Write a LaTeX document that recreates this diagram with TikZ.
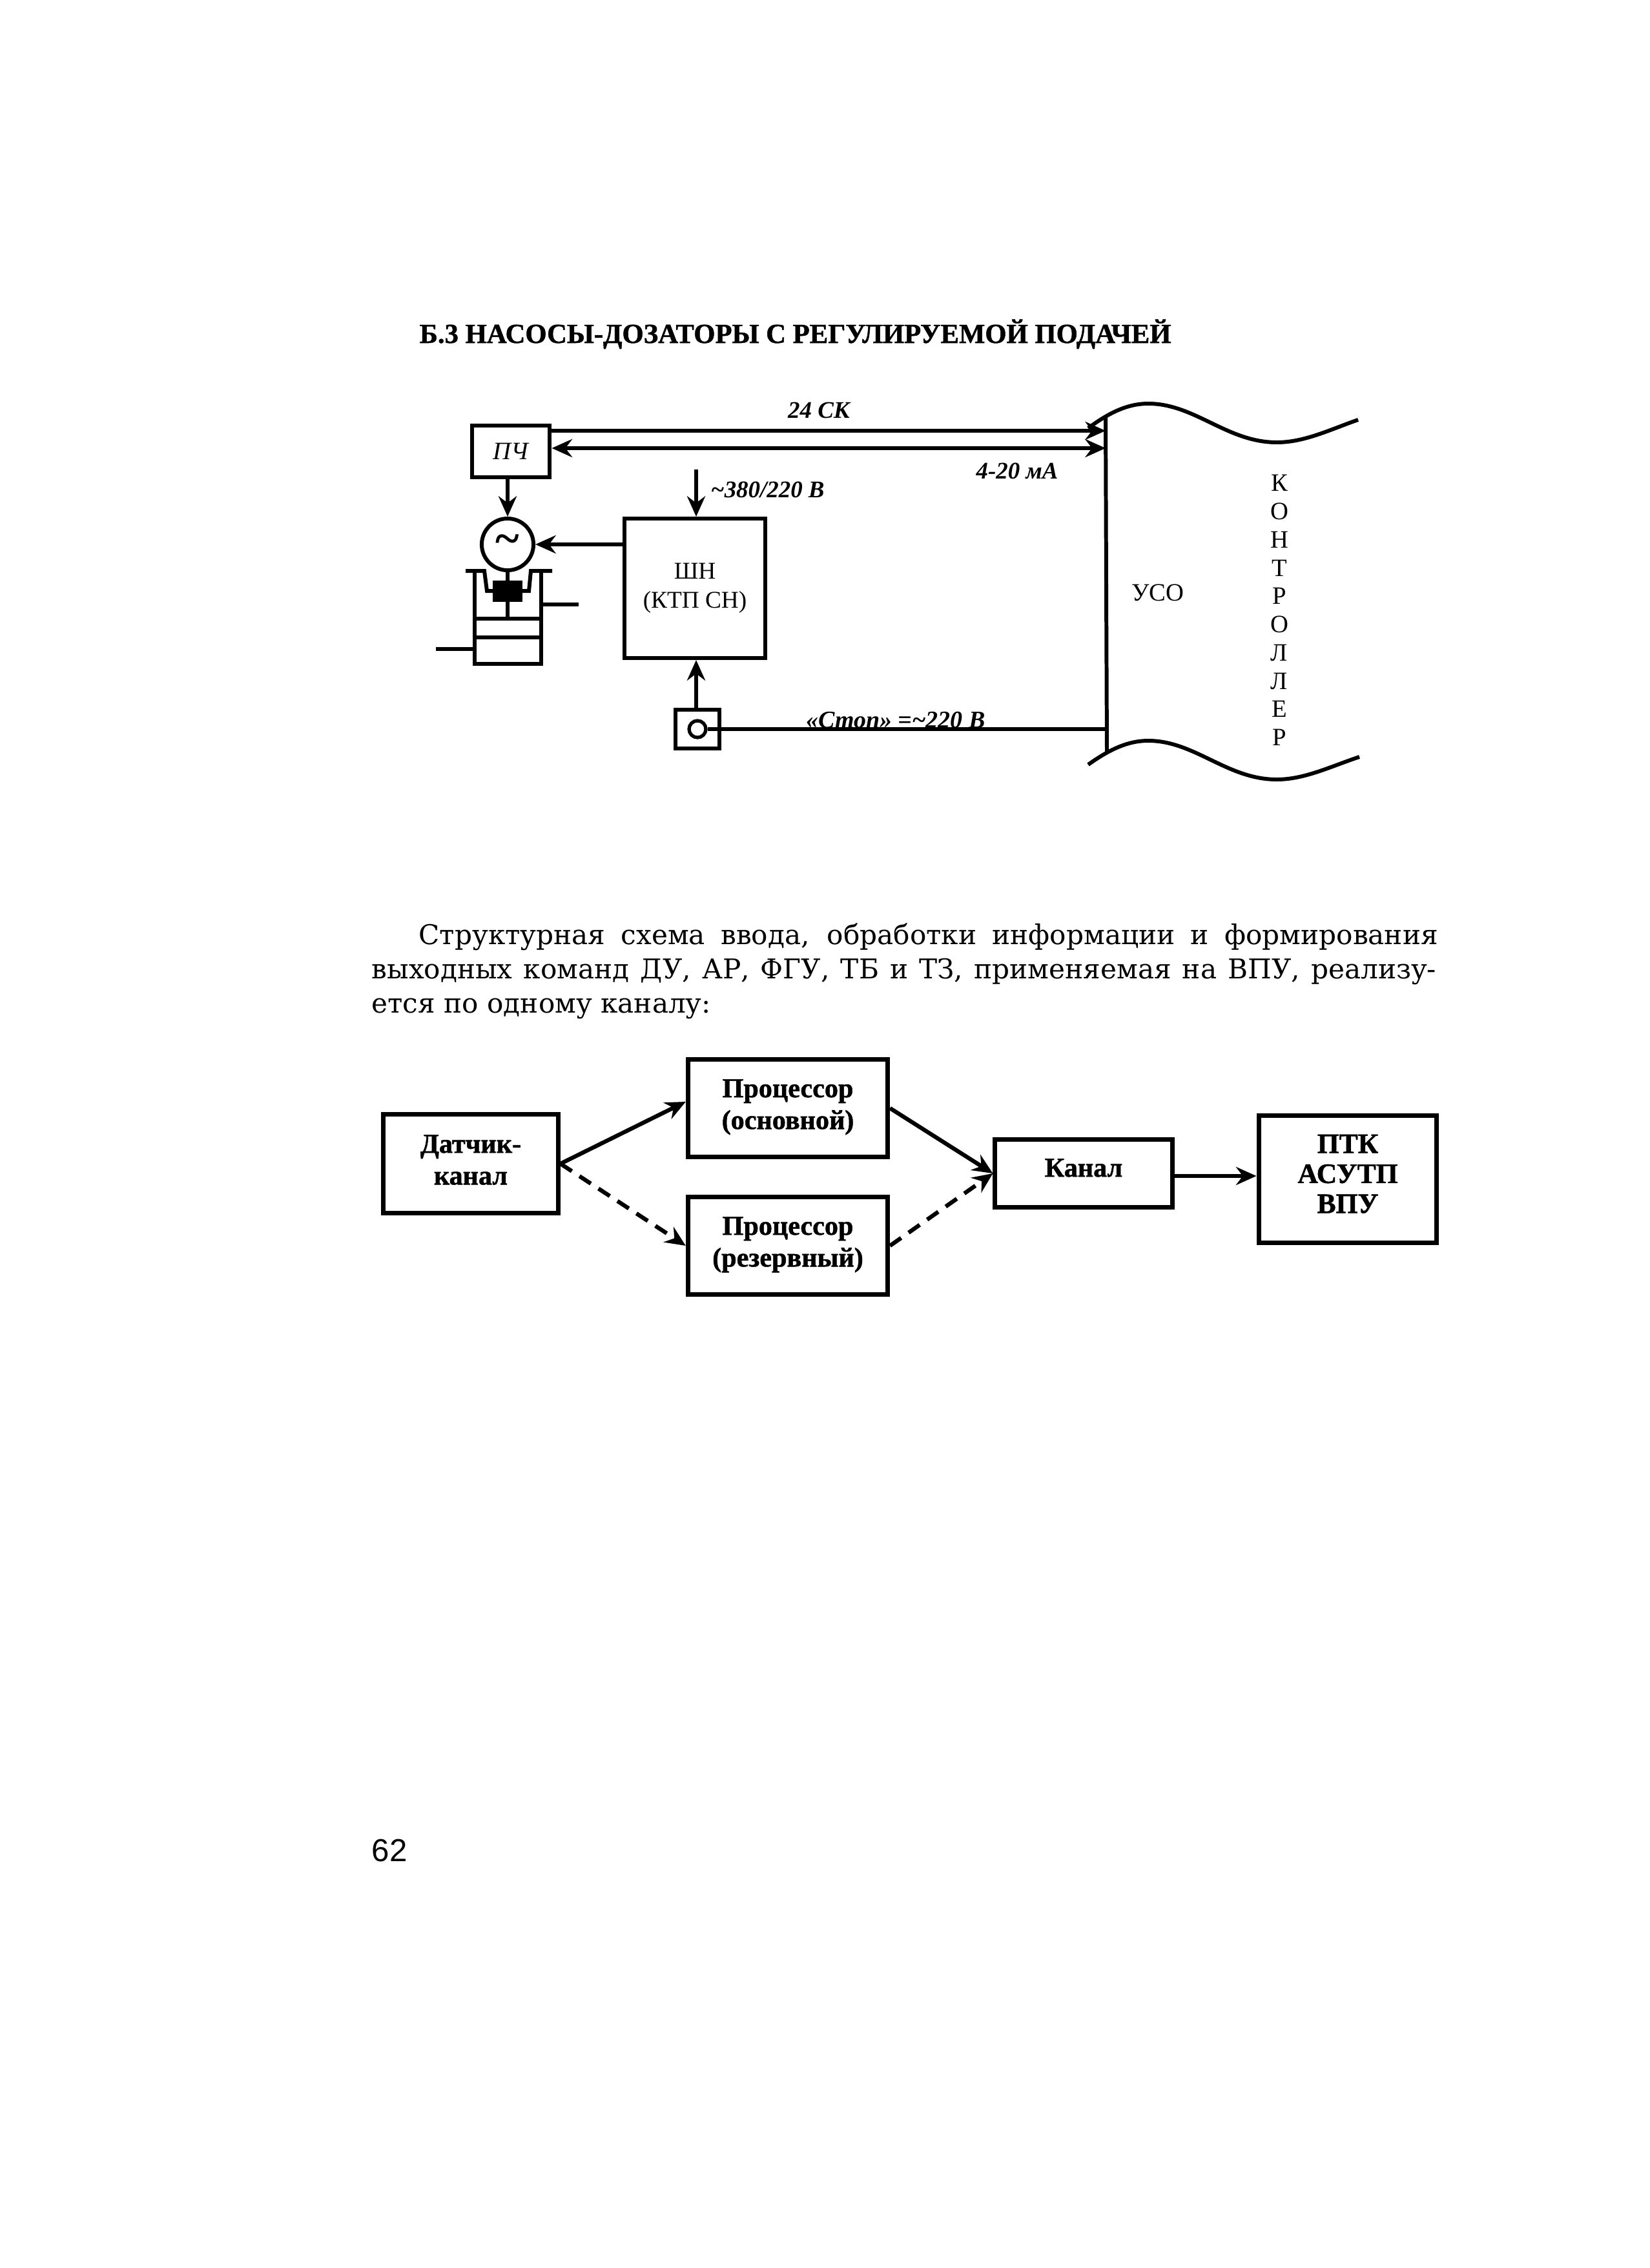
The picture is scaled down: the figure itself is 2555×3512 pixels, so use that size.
\documentclass[tikz,border=0pt]{standalone}
\usepackage{fontspec}
\setmainfont{Liberation Serif}
\setsansfont{Liberation Sans}
\newfontfamily\bookfont{DejaVu Serif}
\newfontfamily\heavyfont[BoldFeatures={FakeBold=1.2}]{Liberation Serif}
\usetikzlibrary{arrows.meta}
\usetikzlibrary{calc}
\tikzset{
  tip/.tip={Stealth[length=9pt,width=8pt,inset=3pt]},
  wire/.style={line width=1.8pt,-tip},
  plain/.style={line width=1.7pt},
  dashline/.style={dash pattern=on 6pt off 4pt},
  box/.style={draw,line width=2pt,inner sep=0pt,align=center,text depth=3.5pt,font=\fontsize{12}{14}\heavyfont\bfseries},
  ibox/.style={draw,line width=1.7pt,inner sep=0pt,align=center},
  sign/.style={inner sep=0pt,font=\fontsize{10.5}{12}\selectfont\bfseries\itshape},
  body/.style={inner sep=0pt,anchor=base west,font=\fontsize{12}{15}\bookfont},
}
\begin{document}
\begin{tikzpicture}[x=0.1mm,y=-0.1mm]
    \useasboundingbox (0,0) rectangle (2555,3512);

    \node [inner sep=0pt,anchor=base west,font=\fontsize{12.15}{15}\heavyfont\bfseries] (title) at (649,531) {Б.3 НАСОСЫ-ДОЗАТОРЫ С РЕГУЛИРУЕМОЙ ПОДАЧЕЙ};

    % верхняя схема
    \coordinate (uso1) at (1712,667) ;
    \coordinate (uso2) at (1712,694) ;
    \coordinate (uso3) at (1712,1129) ;
    \coordinate (usoT) at (1712,647) ;
    \coordinate (usoB) at (1714,1165) ;

    \node [ibox,minimum width=34.4pt,minimum height=22.8pt,font=\fontsize{11}{12}\selectfont\itshape] (pch) at (791,699) {ПЧ};
    \node [draw,circle,line width=1.7pt,minimum size=22.8pt,inner sep=0pt,font=\fontsize{20}{20}\selectfont\bfseries] (motor) at (786,843) {\char"007E};
    \node [ibox,minimum width=62pt,minimum height=61.5pt,font=\fontsize{10.6}{12.8}\selectfont] (shn) at (1076,911) {ШН\\(КТП СН)};
    \node [draw,line width=1.7pt,minimum width=19.6pt,minimum height=17pt,inner sep=0pt] (stp) at (1080,1129) {};
    \node [draw,circle,line width=1.5pt,minimum size=7.4pt,inner sep=0pt] (stpc) at (stp.center) {};
    \coordinate (sup) at (1078,727) ;

    \draw [wire] (pch.east |- uso1) -- (uso1);
    \draw [wire,tip-tip] (pch.east |- uso2) -- (uso2);
    \draw [wire] (pch.south -| motor) -- (motor.north);
    \draw [wire] (shn.west |- motor) -- (motor.east);
    \draw [wire] (sup) -- (sup |- shn.north);
    \draw [wire] (stp.north -| sup) -- (sup |- shn.south);
    \draw [plain] (stpc.east) -- (uso3);

    % насос
    \draw [plain] (721,884) -- (750,884) -- (754,915) -- (819,915) -- (822,884) -- (855,884);
    \draw [plain] (735,884) -- (735,1028) -- (838,1028) -- (838,884);
    \draw [plain] (735,958) -- (838,958) (735,987) -- (838,987);
    \fill (763,899) rectangle (809,932); %шток
    \draw [plain] (motor.south) -- (786,958);
    \draw [plain] (838,936) -- (896,936);
    \draw [plain] (675,1005) -- (735,1005);

    % контроллер
    \draw [plain] (usoT) -- (usoB);
    \draw [plain] (1685,663) .. controls (1716,640) and (1745,625) .. (1778,625) .. controls (1850,625) and (1900,685) .. (1977,685) .. controls (2020,685) and (2060,665) .. (2103,650);
    \draw [plain] (1685,1184) .. controls (1716,1162) and (1745,1147) .. (1778,1147) .. controls (1850,1147) and (1900,1207) .. (1977,1207) .. controls (2020,1207) and (2060,1187) .. (2105,1172);

    \node [sign] (ck) at (1268,635) {24 СК};
    \node [sign] (ma) at (1575,729) {4-20 мА};
    \node [sign,anchor=west] (volt) at (1100,758) {\char"007E 380/220 В};
    \node [sign,font=\fontsize{10.8}{12}\selectfont\bfseries\itshape] (stop) at (1387,1115) {«Стоп» =\char"007E 220 В};
    \node [inner sep=0pt,font=\fontsize{11}{13}\selectfont] (uso) at (1793,918) {УСО};
    \node [inner sep=0pt,align=center,font=\fontsize{11}{12.45}\selectfont] (ctrl) at (1981,945) {К\\О\\Н\\Т\\Р\\О\\Л\\Л\\Е\\Р};

    % текст
    \node [body] (line1) at (648,1462) {\makebox[449pt][s]{Структурная схема ввода, обработки информации и формирования}};
    \node [body] (line2) at (575,1515) {\makebox[469pt][s]{выходных команд ДУ, АР, ФГУ, ТБ и ТЗ, применяемая на ВПУ, реализу-}};
    \node [body] (line3) at (575,1568) {ется по одному каналу:};

    % нижняя схема
    \node [box,minimum width=77pt,minimum height=43.5pt] (dat) at (729,1802) {Датчик-\\канал};
    \node [box,minimum width=88pt,minimum height=43pt] (proc1) at (1220,1716) {Процессор\\(основной)};
    \node [box,minimum width=88pt,minimum height=43pt] (proc2) at (1220,1929) {Процессор\\(резервный)};
    \node [box,minimum width=78pt,minimum height=30pt,text depth=5pt] (kan) at (1678,1817) {Канал};
    \node [box,minimum width=78.5pt,minimum height=56pt,text depth=4.8pt,font=\fontsize{12.4}{13.2}\heavyfont\bfseries] (ptk) at (2087,1826) {ПТК\\АСУТП\\ВПУ};

    \draw [wire] (dat.east) -- ($(proc1.west)+(0,-10)$);
    \draw [wire,dashline] (dat.east) -- (proc2.west);
    \draw [wire] (proc1.east) -- (kan.west);
    \draw [wire,dashline] (proc2.east) -- (kan.west);
    \draw [wire] ($(kan.east)+(0,4)$) -- ($(kan.east -| ptk.west)+(0,4)$);

    \node [inner sep=0pt,anchor=base west,font=\fontsize{14}{16}\sffamily] (page) at (575,2882) {62};
\end{tikzpicture}
\end{document}
